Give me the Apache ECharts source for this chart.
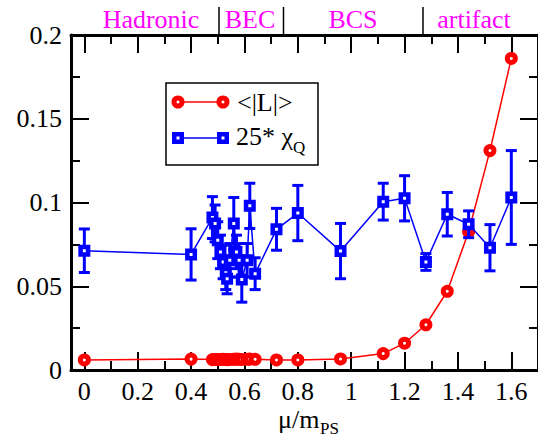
<!DOCTYPE html>
<html><head><meta charset="utf-8">
<script src="https://cdn.jsdelivr.net/npm/echarts@6/dist/echarts.min.js"></script>
<style>html,body{margin:0;padding:0;background:#fff}
#c{width:538px;height:439px}</style>
</head><body>
<div id="c"></div>
<script>
// ---- data ----
const muRatio = [0, 0.40, 0.48, 0.49, 0.50, 0.51, 0.52, 0.53, 0.535, 0.545, 0.56, 0.57, 0.58, 0.59, 0.61, 0.62, 0.64, 0.72, 0.80, 0.96, 1.12, 1.20, 1.28, 1.36, 1.44, 1.52, 1.60];
const polyakov = [0.0060, 0.0065, 0.0062, 0.0063, 0.0062, 0.0063, 0.0064, 0.0063, 0.0062, 0.0063, 0.0064, 0.0065, 0.0064, 0.0063, 0.0064, 0.0065, 0.0064, 0.0060, 0.0060, 0.0066, 0.0098, 0.0160, 0.0270, 0.0470, 0.0825, 0.1310, 0.1860];
const chiQ = [0.0712, 0.0690, 0.0910, 0.0875, 0.0775, 0.0705, 0.0645, 0.0580, 0.0545, 0.0655, 0.0875, 0.0705, 0.0655, 0.0540, 0.0655, 0.0980, 0.0575, 0.0840, 0.0937, 0.0710, 0.1005, 0.1025, 0.0645, 0.0930, 0.0870, 0.0730, 0.1030];
const chiQErr = [0.0130, 0.0153, 0.0125, 0.0110, 0.0110, 0.0100, 0.0100, 0.0100, 0.0090, 0.0100, 0.0155, 0.0100, 0.0100, 0.0135, 0.0100, 0.0135, 0.0095, 0.0125, 0.0165, 0.0165, 0.0110, 0.0135, 0.0050, 0.0130, 0.0080, 0.0138, 0.0280];
const xMajorTicks = [0, 0.2, 0.4, 0.6, 0.8, 1.0, 1.2, 1.4, 1.6];
const xMinorTicks = [0.1, 0.3, 0.5, 0.7, 0.9, 1.1, 1.3, 1.5];
const regionLabels = ['Hadronic', 'BEC', 'BCS', 'artifact'];
const seriesNames = ['<|L|>', '25* \u03c7', 'Q'];
const axisTitle = ['\u03bc/m', 'PS'];

// ---- chart ----
const FONT = 'Liberation Serif';

function xAx(position, ticks, len, line, labels) {
  return {
    type: 'value', position: position, min: -0.05, max: 1.7, gridIndex: 0,
    axisLine: {show: line, onZero: false, lineStyle: {color: '#000', width: 3}},
    axisTick: {show: true, inside: true, length: len, customValues: ticks, lineStyle: {color: '#000', width: 2}},
    axisLabel: labels ? {show: true, customValues: ticks, margin: 8, color: '#000', fontSize: 26, fontFamily: FONT,
      formatter: v => String(Math.round(v * 10) / 10)} : {show: false},
    splitLine: {show: false}
  };
}
function yAx(position, labels) {
  return {
    type: 'value', position: position, min: 0, max: 0.2, interval: 0.05, gridIndex: 0,
    axisLine: {show: true, onZero: false, lineStyle: {color: '#000', width: 3}},
    axisTick: {show: true, inside: true, length: 18, lineStyle: {color: '#000', width: 2}},
    minorTick: {show: true, splitNumber: 2, length: 9, lineStyle: {color: '#000', width: 2}},
    axisLabel: labels ? {show: true, margin: 9, color: '#000', fontSize: 26, fontFamily: FONT,
      formatter: v => String(Math.round(v * 100) / 100)} : {show: false},
    splitLine: {show: false}, minorSplitLine: {show: false}
  };
}

const redPts = muRatio.map((x, i) => [x, polyakov[i]]);
const bluePts = muRatio.map((x, i) => [x, chiQ[i]]);
const errPts = muRatio.map((x, i) => [x, chiQ[i], chiQErr[i]]);

function txt(x, y, text, size, color, align) {
  return {type: 'text', x: x, y: y, z: 12, style: {text: text, fill: color, fontSize: size, fontFamily: FONT, align: align || 'left', verticalAlign: 'middle'}};
}

const option = {
  animation: false,
  backgroundColor: '#fff',
  grid: {left: 71, top: 35, width: 474, height: 335, containLabel: false},
  xAxis: [
    xAx('bottom', xMajorTicks, 18, true, true),
    xAx('bottom', xMinorTicks, 9, false, false),
    xAx('top', xMajorTicks, 18, true, false),
    xAx('top', xMinorTicks, 9, false, false)
  ],
  yAxis: [yAx('left', true), yAx('right', false)],
  series: [
    {
      name: seriesNames[0], type: 'line', xAxisIndex: 0, yAxisIndex: 0, data: redPts, z: 2,
      symbol: 'circle', symbolSize: 8, clip: false,
      itemStyle: {color: '#fff', borderColor: '#ff0000', borderWidth: 5},
      lineStyle: {color: '#ff0000', width: 1.5},
      emphasis: {disabled: true}
    },
    {
      name: 'err', type: 'custom', xAxisIndex: 0, yAxisIndex: 0, data: errPts, z: 3,
      encode: {x: 0, y: 1},
      renderItem: function (params, api) {
        const x = api.value(0), y = api.value(1), e = api.value(2);
        const t = api.coord([x, y + e]);
        const b = api.coord([x, y - e]);
        const cw = 5.5;
        const st = {stroke: '#0000ff', lineWidth: 3};
        return {type: 'group', children: [
          {type: 'line', shape: {x1: t[0], y1: t[1], x2: b[0], y2: b[1]}, style: st},
          {type: 'line', shape: {x1: t[0] - cw, y1: t[1], x2: t[0] + cw, y2: t[1]}, style: st},
          {type: 'line', shape: {x1: b[0] - cw, y1: b[1], x2: b[0] + cw, y2: b[1]}, style: st}
        ]};
      }
    },
    {
      name: seriesNames[1], type: 'line', xAxisIndex: 0, yAxisIndex: 0, data: bluePts, z: 4,
      symbol: 'rect', symbolSize: 7.5, clip: false,
      itemStyle: {color: '#fff', borderColor: '#0000ff', borderWidth: 4.5},
      lineStyle: {color: '#0000ff', width: 1.5},
      emphasis: {disabled: true}
    }
  ],
  graphic: [
    txt(151, 19, regionLabels[0], 26, '#ff00ff', 'center'),
    txt(250, 19, regionLabels[1], 26, '#ff00ff', 'center'),
    txt(353, 19, regionLabels[2], 26, '#ff00ff', 'center'),
    txt(474, 19, regionLabels[3], 26, '#ff00ff', 'center'),
    {type: 'line', z: 10, shape: {x1: 219, y1: 7, x2: 219, y2: 35}, style: {stroke: '#000', lineWidth: 1.5}},
    {type: 'line', z: 10, shape: {x1: 283.5, y1: 7, x2: 283.5, y2: 35}, style: {stroke: '#000', lineWidth: 1.5}},
    {type: 'line', z: 10, shape: {x1: 423, y1: 7, x2: 423, y2: 35}, style: {stroke: '#000', lineWidth: 1.5}},
    // legend
    {type: 'rect', z: 10, shape: {x: 166, y: 83, width: 152, height: 82}, style: {fill: '#fff', stroke: '#000', lineWidth: 1.5}},
    {type: 'line', z: 11, shape: {x1: 178, y1: 102, x2: 223, y2: 102}, style: {stroke: '#ff0000', lineWidth: 1.5}},
    {type: 'circle', z: 12, shape: {cx: 178, cy: 102, r: 4}, style: {fill: '#fff', stroke: '#ff0000', lineWidth: 5}},
    {type: 'circle', z: 12, shape: {cx: 223, cy: 102, r: 4}, style: {fill: '#fff', stroke: '#ff0000', lineWidth: 5}},
    txt(237, 102, seriesNames[0], 26, '#000'),
    {type: 'line', z: 11, shape: {x1: 178, y1: 138, x2: 223, y2: 138}, style: {stroke: '#0000ff', lineWidth: 1.5}},
    {type: 'rect', z: 12, shape: {x: 174.25, y: 134.25, width: 7.5, height: 7.5}, style: {fill: '#fff', stroke: '#0000ff', lineWidth: 4.5}},
    {type: 'rect', z: 12, shape: {x: 219.25, y: 134.25, width: 7.5, height: 7.5}, style: {fill: '#fff', stroke: '#0000ff', lineWidth: 4.5}},
    txt(236, 136, seriesNames[1], 26, '#000'),
    txt(293, 147, seriesNames[2], 17, '#000'),
    // axis title
    txt(278, 419, axisTitle[0], 26, '#000'),
    txt(320, 428, axisTitle[1], 17, '#000')
  ]
};

const chart = echarts.init(document.getElementById('c'), null, {renderer: 'svg'});
chart.setOption(option);
</script>
</body></html>
